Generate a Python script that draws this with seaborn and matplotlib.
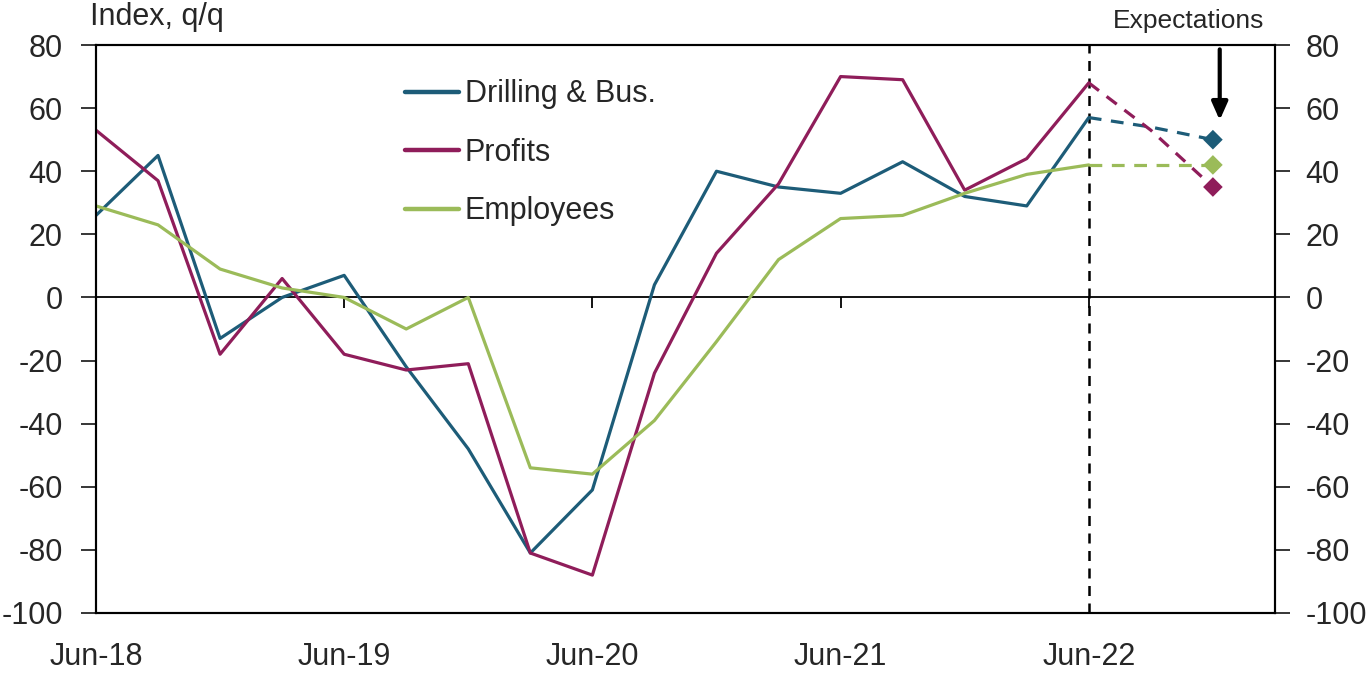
import matplotlib
matplotlib.use('Agg')
import matplotlib.pyplot as plt
import pandas as pd
import seaborn as sns

# quarterly survey index, Jun-18 to Jun-22, then expectations for Sep-22 / Dec-22
quarters = ['Jun-18', 'Sep-18', 'Dec-18', 'Mar-19', 'Jun-19', 'Sep-19',
            'Dec-19', 'Mar-20', 'Jun-20', 'Sep-20', 'Dec-20', 'Mar-21',
            'Jun-21', 'Sep-21', 'Dec-21', 'Mar-22', 'Jun-22', 'Sep-22',
            'Dec-22']
drilling = [26, 45, -13, 0, 7, -22, -48, -81, -61, 4, 40, 35, 33, 43, 32, 29,
            57, 54, 50]
profits = [53, 37, -18, 6, -18, -23, -21, -81, -88, -24, 14, 36, 70, 69, 34,
           44, 68, 53, 35]
employees = [29, 23, 9, 3, 0, -10, 0, -54, -56, -39, -14, 12, 25, 26, 33, 39,
             42, 42, 42]
series_names = ['Drilling & Bus.', 'Profits', 'Employees']
tick_labels = ['Jun-18', 'Jun-19', 'Jun-20', 'Jun-21', 'Jun-22']
last_actual = 'Jun-22'

colors = {'Drilling & Bus.': '#1d5c78', 'Profits': '#8f1d5a',
          'Employees': '#9bbb59'}

sns.set_theme(style='white')
plt.rcParams['font.family'] = ['Liberation Sans', 'DejaVu Sans']
plt.rcParams['axes.unicode_minus'] = False

rows = []
for name, vals in zip(series_names, [drilling, profits, employees]):
    for i, (q, v) in enumerate(zip(quarters, vals)):
        rows.append({'idx': i, 'quarter': q, 'series': name, 'value': v})
df = pd.DataFrame(rows)
cut = quarters.index(last_actual)
actual = df[df['idx'] <= cut]
expect = df[df['idx'] >= cut]
final = df[df['idx'] == len(quarters) - 1]

fig = plt.figure(figsize=(13.69, 6.81), dpi=100)
ax = fig.add_axes([0.0701, 0.0999, 0.8612, 0.834])

ax.axhline(0, color='black', lw=1.3, zorder=1)
ax.axvline(cut, color='black', lw=1.8, ls=(0, (4, 3)), zorder=1)

sns.lineplot(data=actual, x='idx', y='value', hue='series',
             hue_order=series_names, palette=colors, lw=2.3, ax=ax,
             zorder=3)
sns.lineplot(data=expect, x='idx', y='value', hue='series',
             hue_order=series_names, palette=colors, lw=2.3, ax=ax,
             linestyle=(0, (4, 3)), legend=False, zorder=3)
sns.scatterplot(data=final, x='idx', y='value', hue='series',
                hue_order=series_names, palette=colors, marker='D', s=100,
                edgecolor='none', ax=ax, legend=False, zorder=4)

# x ticks drawn at the zero line
tick_pos = [quarters.index(t) for t in tick_labels]
ax.vlines(tick_pos, -3.5, 0, color='black', lw=1.3, zorder=1)
ax.set_xticks(tick_pos)
ax.set_xticklabels(tick_labels)
ax.tick_params(axis='x', length=0, pad=21, labelsize=22)
ax.set_xlim(0, 19)
ax.set_ylim(-100, 80)
ax.set_yticks(range(-100, 81, 20))
ax.tick_params(axis='y', direction='out', length=11, width=1.3,
               labelsize=22, left=True, pad=13)
ax.set_xlabel('')
ax.set_ylabel('')
for s in ax.spines.values():
    s.set_color('black')
    s.set_linewidth(1.5)

ax2 = ax.twinx()
ax2.set_ylim(-100, 80)
ax2.set_yticks(range(-100, 81, 20))
ax2.tick_params(axis='y', direction='out', length=11, width=1.3,
                labelsize=22, right=True, pad=11)
for s in ax2.spines.values():
    s.set_color('black')
    s.set_linewidth(1.5)

leg = ax.legend(loc='upper left', bbox_to_anchor=(0.252, 0.961),
                frameon=False, fontsize=22, handlelength=1.75,
                handletextpad=0.2, labelspacing=0.93, borderaxespad=0)
for h in leg.get_lines():
    h.set_linewidth(3.2)

fig.text(0.066, 0.975, 'Index, q/q', fontsize=22, ha='left', va='center')
ax.text(17.6, 87.5, 'Expectations', ha='center', va='center', fontsize=19,
        clip_on=False)
ax.annotate('', xy=(18.11, 55.3), xytext=(18.11, 79.5),
            arrowprops=dict(arrowstyle='-|>,head_width=0.4,head_length=0.9',
                            color='black', lw=3),
            annotation_clip=False)

fig.savefig('out.png', dpi=100)
